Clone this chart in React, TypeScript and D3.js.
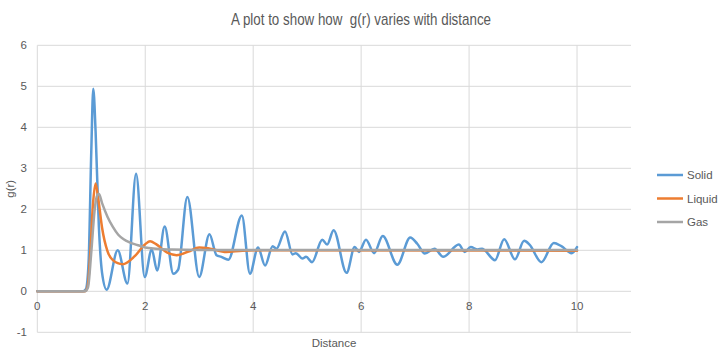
import React from "react";
import * as d3 from "d3";

const solidR = [0, 0.85, 0.9, 0.95, 1.0, 1.037, 1.08, 1.14, 1.2, 1.285, 1.49, 1.67, 1.83, 1.99, 2.12, 2.22, 2.36, 2.52, 2.61, 2.78, 3.0, 3.19, 3.32, 3.41, 3.54, 3.79, 3.94, 4.09, 4.22, 4.36, 4.43, 4.59, 4.73, 4.79, 4.91, 4.98, 5.09, 5.28, 5.37, 5.49, 5.73, 5.88, 5.96, 6.09, 6.24, 6.4, 6.67, 6.91, 7.04, 7.18, 7.36, 7.52, 7.81, 7.92, 8.03, 8.16, 8.24, 8.29, 8.48, 8.65, 8.85, 9.02, 9.12, 9.34, 9.57, 9.71, 9.9, 10.0];
const solidG = [0, 0, 0.05, 0.7, 3.4, 4.94, 3.9, 1.6, 0.45, 0.04, 1.0, 0.19, 2.87, 0.35, 1.02, 0.51, 1.58, 0.43, 0.53, 2.3, 0.35, 1.39, 0.88, 0.84, 0.77, 1.85, 0.43, 1.07, 0.63, 1.1, 1.04, 1.46, 0.9, 0.93, 0.8, 0.84, 0.71, 1.26, 1.14, 1.49, 0.45, 1.08, 0.96, 1.26, 0.93, 1.35, 0.65, 1.31, 1.16, 0.92, 1.04, 0.84, 1.14, 0.96, 1.08, 1.02, 1.04, 1.0, 0.76, 1.27, 0.78, 1.23, 1.14, 0.71, 1.18, 1.1, 0.93, 1.08];

const liquidR = [0, 0.88, 0.93, 0.98, 1.03, 1.08, 1.13, 1.2, 1.3, 1.4, 1.58, 1.8, 2.0, 2.09, 2.2, 2.4, 2.58, 2.8, 3.0, 3.2, 3.5, 3.8, 4.2, 10.0];
const liquidG = [0, 0, 0.1, 0.9, 2.1, 2.63, 2.25, 1.55, 0.98, 0.76, 0.66, 0.85, 1.15, 1.22, 1.15, 0.95, 0.88, 0.97, 1.07, 1.04, 0.96, 0.99, 1.0, 0.99];

const gasR = [0, 0.88, 0.94, 1.0, 1.06, 1.1, 1.14, 1.2, 1.3, 1.4, 1.5, 1.6, 1.7, 1.8, 1.9, 2.0, 2.2, 2.5, 3.0, 10.0];
const gasG = [0, 0, 0.1, 0.95, 1.95, 2.3, 2.38, 2.15, 1.82, 1.57, 1.38, 1.27, 1.2, 1.15, 1.11, 1.07, 1.04, 1.02, 1.01, 1.01];

const xTicks = [0, 2, 4, 6, 8, 10];
const yTicks = [-1, 0, 1, 2, 3, 4, 5, 6];
const seriesNames = ["Solid", "Liquid", "Gas"];
const seriesColors = ["#5B9BD5", "#ED7D31", "#A5A5A5"];

const W = 722;
const H = 358;
const FONT = "'Liberation Sans', Arial, sans-serif";

export default function App() {
  const x = d3.scaleLinear().domain([0, 11]).range([37.3, 631]);
  const y = d3.scaleLinear().domain([-1, 6]).range([332.3, 45.3]);
  const line = d3
    .line<[number, number]>()
    .x((d) => x(d[0]))
    .y((d) => y(d[1]))
    .curve(d3.curveMonotoneX);

  const series = [
    solidR.map((r, i) => [r, solidG[i]] as [number, number]),
    liquidR.map((r, i) => [r, liquidG[i]] as [number, number]),
    gasR.map((r, i) => [r, gasG[i]] as [number, number]),
  ];

  const legendY = [175, 198.5, 222];

  return (
    <svg width={W} height={H} style={{ position: "absolute", left: 0, top: 0, background: "#fff" }}>
      <rect x={0} y={0} width={W} height={H} fill="#fff" />
      <text
        x={361}
        y={25}
        textAnchor="middle"
        fontFamily={FONT}
        fontSize={17}
        fill="#595959"
        textLength={260}
        lengthAdjust="spacingAndGlyphs"
        style={{ whiteSpace: "pre" }}
      >
        {"A plot to show how  g(r) varies with distance"}
      </text>
      {yTicks.map((t) => (
        <line key={"gy" + t} x1={x(0)} x2={x(11)} y1={y(t)} y2={y(t)} stroke="#D9D9D9" strokeWidth={1} />
      ))}
      {xTicks.map((t) => (
        <line key={"gx" + t} x1={x(t)} x2={x(t)} y1={y(-1)} y2={y(6)} stroke="#D9D9D9" strokeWidth={1} />
      ))}
      {yTicks.map((t) => (
        <text key={"ty" + t} x={27} y={y(t) + 4} textAnchor="end" fontFamily={FONT} fontSize={11.5} fill="#595959">
          {t}
        </text>
      ))}
      {xTicks.map((t) => (
        <text key={"tx" + t} x={x(t)} y={y(0) + 19} textAnchor="middle" fontFamily={FONT} fontSize={11.5} fill="#595959">
          {t}
        </text>
      ))}
      <text x={334} y={347} textAnchor="middle" fontFamily={FONT} fontSize={11.5} fill="#595959">
        Distance
      </text>
      <text
        transform={`translate(14,${(y(-1) + y(6)) / 2}) rotate(-90)`}
        textAnchor="middle"
        fontFamily={FONT}
        fontSize={11.5}
        fill="#595959"
      >
        g(r)
      </text>
      {series.map((s, i) => (
        <path key={"s" + i} d={line(s) || ""} fill="none" stroke={seriesColors[i]} strokeWidth={2.5} strokeLinejoin="round" strokeLinecap="round" />
      ))}
      {seriesNames.map((n, i) => (
        <g key={"l" + n}>
          <line x1={657} x2={683} y1={legendY[i]} y2={legendY[i]} stroke={seriesColors[i]} strokeWidth={2.5} />
          <text x={687} y={legendY[i] + 4} fontFamily={FONT} fontSize={11.5} fill="#595959">
            {n}
          </text>
        </g>
      ))}
    </svg>
  );
}
